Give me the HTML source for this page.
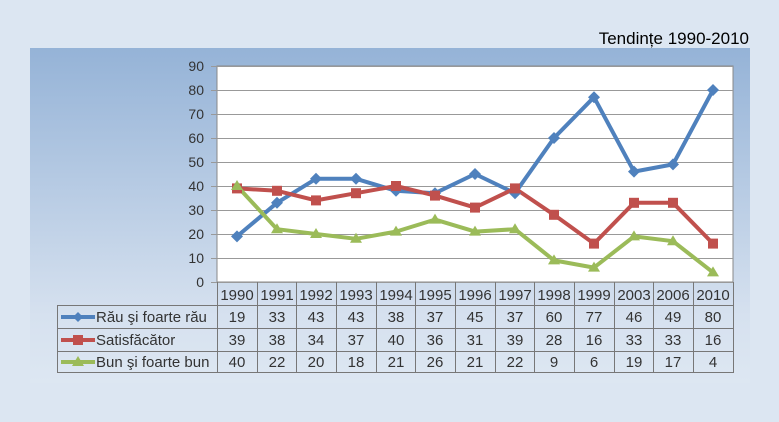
<!DOCTYPE html>
<html><head><meta charset="utf-8"><style>
body{margin:0;width:779px;height:417px;background:#dce6f2;overflow:hidden;font-family:"Liberation Sans",sans-serif}
</style></head><body>
<svg width="779" height="417" xmlns="http://www.w3.org/2000/svg" font-family="Liberation Sans, sans-serif">
<defs>
<linearGradient id="g" x1="0" y1="0" x2="0" y2="1">
<stop offset="0" stop-color="#95b3d7"/><stop offset="0.8" stop-color="#d6e1ef"/><stop offset="1" stop-color="#dde7f2"/>
</linearGradient>
</defs>
<rect width="779" height="417" fill="#dce6f2"/>
<rect x="30" y="48" width="720" height="335" fill="url(#g)"/>
<text x="749" y="44" font-size="17" text-anchor="end" fill="#000">Tendințe 1990-2010</text>
<rect x="217" y="66" width="516" height="216" fill="#fff" stroke="#888" stroke-width="1"/>
<g stroke="#999" stroke-width="1">
<line x1="211" y1="66.5" x2="733" y2="66.5"/><line x1="211" y1="90.5" x2="733" y2="90.5"/><line x1="211" y1="114.5" x2="733" y2="114.5"/><line x1="211" y1="138.5" x2="733" y2="138.5"/><line x1="211" y1="162.5" x2="733" y2="162.5"/><line x1="211" y1="186.5" x2="733" y2="186.5"/><line x1="211" y1="210.5" x2="733" y2="210.5"/><line x1="211" y1="234.5" x2="733" y2="234.5"/><line x1="211" y1="258.5" x2="733" y2="258.5"/><line x1="211" y1="282.5" x2="733" y2="282.5"/>
</g>
<g font-size="14" fill="#333" text-anchor="end">
<text x="204" y="71">90</text><text x="204" y="95">80</text><text x="204" y="119">70</text><text x="204" y="143">60</text><text x="204" y="167">50</text><text x="204" y="191">40</text><text x="204" y="215">30</text><text x="204" y="239">20</text><text x="204" y="263">10</text><text x="204" y="287">0</text>
</g>
<!-- series -->
<polyline fill="none" stroke="#4f81bd" stroke-width="4" stroke-linejoin="round" points="237,236.4 277,202.8 316,178.8 356,178.8 396,190.8 435,193.2 475,174 515,193.2 554,138 594,97.2 634,171.6 673,164.4 713,90"/>
<polyline fill="none" stroke="#c0504d" stroke-width="4" stroke-linejoin="round" points="237,188.4 277,190.8 316,200.4 356,193.2 396,186 435,195.6 475,207.6 515,188.4 554,214.8 594,243.6 634,202.8 673,202.8 713,243.6"/>
<polyline fill="none" stroke="#9bbb59" stroke-width="4" stroke-linejoin="round" points="237,186 277,229.2 316,234 356,238.8 396,231.6 435,219.6 475,231.6 515,229.2 554,260.4 594,267.6 634,236.4 673,241.2 713,272.4"/>
<g fill="#4f81bd">
<path d="M237 230.4l6 6-6 6-6-6z"/><path d="M277 196.8l6 6-6 6-6-6z"/><path d="M316 172.8l6 6-6 6-6-6z"/><path d="M356 172.8l6 6-6 6-6-6z"/><path d="M396 184.8l6 6-6 6-6-6z"/><path d="M435 187.2l6 6-6 6-6-6z"/><path d="M475 168l6 6-6 6-6-6z"/><path d="M515 187.2l6 6-6 6-6-6z"/><path d="M554 132l6 6-6 6-6-6z"/><path d="M594 91.2l6 6-6 6-6-6z"/><path d="M634 165.6l6 6-6 6-6-6z"/><path d="M673 158.4l6 6-6 6-6-6z"/><path d="M713 84l6 6-6 6-6-6z"/>
</g>
<g fill="#c0504d">
<rect x="232" y="183.4" width="10" height="10"/><rect x="272" y="185.8" width="10" height="10"/><rect x="311" y="195.4" width="10" height="10"/><rect x="351" y="188.2" width="10" height="10"/><rect x="391" y="181" width="10" height="10"/><rect x="430" y="190.6" width="10" height="10"/><rect x="470" y="202.6" width="10" height="10"/><rect x="510" y="183.4" width="10" height="10"/><rect x="549" y="209.8" width="10" height="10"/><rect x="589" y="238.6" width="10" height="10"/><rect x="629" y="197.8" width="10" height="10"/><rect x="668" y="197.8" width="10" height="10"/><rect x="708" y="238.6" width="10" height="10"/>
</g>
<g fill="#9bbb59">
<path d="M237 180l6 10h-12z"/><path d="M277 223.2l6 10h-12z"/><path d="M316 228l6 10h-12z"/><path d="M356 232.8l6 10h-12z"/><path d="M396 225.6l6 10h-12z"/><path d="M435 213.6l6 10h-12z"/><path d="M475 225.6l6 10h-12z"/><path d="M515 223.2l6 10h-12z"/><path d="M554 254.4l6 10h-12z"/><path d="M594 261.6l6 10h-12z"/><path d="M634 230.4l6 10h-12z"/><path d="M673 235.2l6 10h-12z"/><path d="M713 266.4l6 10h-12z"/>
</g>
<!-- table -->
<g stroke="#777" stroke-width="1" fill="none">
<rect x="57.5" y="305.5" width="676" height="67"/>
<line x1="217.5" y1="282" x2="217.5" y2="372"/><line x1="733.5" y1="282" x2="733.5" y2="372"/>
<line x1="57" y1="328.5" x2="733" y2="328.5"/><line x1="57" y1="351.5" x2="733" y2="351.5"/>
<line x1="257.5" y1="282" x2="257.5" y2="372"/><line x1="296.5" y1="282" x2="296.5" y2="372"/><line x1="336.5" y1="282" x2="336.5" y2="372"/><line x1="376.5" y1="282" x2="376.5" y2="372"/><line x1="415.5" y1="282" x2="415.5" y2="372"/><line x1="455.5" y1="282" x2="455.5" y2="372"/><line x1="495.5" y1="282" x2="495.5" y2="372"/><line x1="534.5" y1="282" x2="534.5" y2="372"/><line x1="574.5" y1="282" x2="574.5" y2="372"/><line x1="614.5" y1="282" x2="614.5" y2="372"/><line x1="653.5" y1="282" x2="653.5" y2="372"/><line x1="693.5" y1="282" x2="693.5" y2="372"/>
</g>
<g font-size="15" fill="#333" text-anchor="middle">
<text x="237" y="300">1990</text><text x="277" y="300">1991</text><text x="316" y="300">1992</text><text x="356" y="300">1993</text><text x="396" y="300">1994</text><text x="435" y="300">1995</text><text x="475" y="300">1996</text><text x="515" y="300">1997</text><text x="554" y="300">1998</text><text x="594" y="300">1999</text><text x="634" y="300">2003</text><text x="673" y="300">2006</text><text x="713" y="300">2010</text>
<text x="237" y="322">19</text><text x="277" y="322">33</text><text x="316" y="322">43</text><text x="356" y="322">43</text><text x="396" y="322">38</text><text x="435" y="322">37</text><text x="475" y="322">45</text><text x="515" y="322">37</text><text x="554" y="322">60</text><text x="594" y="322">77</text><text x="634" y="322">46</text><text x="673" y="322">49</text><text x="713" y="322">80</text>
<text x="237" y="345">39</text><text x="277" y="345">38</text><text x="316" y="345">34</text><text x="356" y="345">37</text><text x="396" y="345">40</text><text x="435" y="345">36</text><text x="475" y="345">31</text><text x="515" y="345">39</text><text x="554" y="345">28</text><text x="594" y="345">16</text><text x="634" y="345">33</text><text x="673" y="345">33</text><text x="713" y="345">16</text>
<text x="237" y="367">40</text><text x="277" y="367">22</text><text x="316" y="367">20</text><text x="356" y="367">18</text><text x="396" y="367">21</text><text x="435" y="367">26</text><text x="475" y="367">21</text><text x="515" y="367">22</text><text x="554" y="367">9</text><text x="594" y="367">6</text><text x="634" y="367">19</text><text x="673" y="367">17</text><text x="713" y="367">4</text>
</g>
<g font-size="15" fill="#333">
<text x="96" y="322">Rău şi foarte rău</text><text x="96" y="345">Satisfăcător</text><text x="96" y="367">Bun şi foarte bun</text>
</g>
<line x1="61" y1="317" x2="95" y2="317" stroke="#4f81bd" stroke-width="4"/><path d="M78 312l5 5-5 5-5-5z" fill="#4f81bd"/>
<line x1="61" y1="340" x2="95" y2="340" stroke="#c0504d" stroke-width="4"/><rect x="73" y="335" width="10" height="10" fill="#c0504d"/>
<line x1="61" y1="362" x2="95" y2="362" stroke="#9bbb59" stroke-width="4"/><path d="M78 356l6 10h-12z" fill="#9bbb59"/>
</svg>
</body></html>
